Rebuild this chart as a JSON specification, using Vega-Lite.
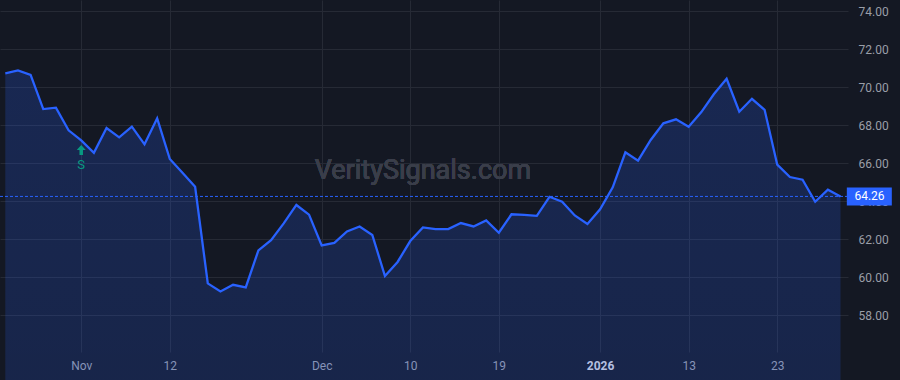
{
  "$schema": "https://vega.github.io/schema/vega-lite/v6.json",
  "width": 848,
  "height": 352,
  "autosize": "none",
  "padding": {"left": 0, "top": 0, "right": 52, "bottom": 28},
  "background": "#141823",
  "config": {
    "view": {"stroke": null},
    "font": "Roboto",
    "axis": {
      "gridColor": "#262a35",
      "gridWidth": 1,
      "domain": false,
      "ticks": false,
      "labelColor": "#9a9ea8",
      "labelFontSize": 12,
      "labelFont": "Roboto",
      "title": null
    }
  },
  "data": {
    "values": [
      {"date": "2025-10-24", "close": 70.74},
      {"date": "2025-10-27", "close": 70.89},
      {"date": "2025-10-28", "close": 70.66},
      {"date": "2025-10-29", "close": 68.86},
      {"date": "2025-10-30", "close": 68.93},
      {"date": "2025-10-31", "close": 67.74},
      {"date": "2025-11-03", "close": 67.21, "signal": "S"},
      {"date": "2025-11-04", "close": 66.56},
      {"date": "2025-11-05", "close": 67.86},
      {"date": "2025-11-06", "close": 67.37},
      {"date": "2025-11-07", "close": 67.93},
      {"date": "2025-11-10", "close": 67.00},
      {"date": "2025-11-11", "close": 68.37},
      {"date": "2025-11-12", "close": 66.23},
      {"date": "2025-11-13", "close": 65.51},
      {"date": "2025-11-14", "close": 64.77},
      {"date": "2025-11-17", "close": 59.68},
      {"date": "2025-11-18", "close": 59.26},
      {"date": "2025-11-19", "close": 59.61},
      {"date": "2025-11-20", "close": 59.47},
      {"date": "2025-11-21", "close": 61.42},
      {"date": "2025-11-24", "close": 61.96},
      {"date": "2025-11-25", "close": 62.84},
      {"date": "2025-11-26", "close": 63.81},
      {"date": "2025-11-28", "close": 63.30},
      {"date": "2025-12-01", "close": 61.68},
      {"date": "2025-12-02", "close": 61.81},
      {"date": "2025-12-03", "close": 62.42},
      {"date": "2025-12-04", "close": 62.68},
      {"date": "2025-12-05", "close": 62.23},
      {"date": "2025-12-08", "close": 60.07},
      {"date": "2025-12-09", "close": 60.81},
      {"date": "2025-12-10", "close": 61.91},
      {"date": "2025-12-11", "close": 62.63},
      {"date": "2025-12-12", "close": 62.54},
      {"date": "2025-12-15", "close": 62.54},
      {"date": "2025-12-16", "close": 62.86},
      {"date": "2025-12-17", "close": 62.68},
      {"date": "2025-12-18", "close": 63.00},
      {"date": "2025-12-19", "close": 62.35},
      {"date": "2025-12-22", "close": 63.32},
      {"date": "2025-12-23", "close": 63.29},
      {"date": "2025-12-24", "close": 63.24},
      {"date": "2025-12-26", "close": 64.24},
      {"date": "2025-12-29", "close": 63.98},
      {"date": "2025-12-30", "close": 63.26},
      {"date": "2025-12-31", "close": 62.81},
      {"date": "2026-01-02", "close": 63.58},
      {"date": "2026-01-05", "close": 64.74},
      {"date": "2026-01-06", "close": 66.58},
      {"date": "2026-01-07", "close": 66.14},
      {"date": "2026-01-08", "close": 67.23},
      {"date": "2026-01-09", "close": 68.11},
      {"date": "2026-01-12", "close": 68.32},
      {"date": "2026-01-13", "close": 67.93},
      {"date": "2026-01-14", "close": 68.70},
      {"date": "2026-01-15", "close": 69.65},
      {"date": "2026-01-16", "close": 70.45},
      {"date": "2026-01-20", "close": 68.72},
      {"date": "2026-01-21", "close": 69.40},
      {"date": "2026-01-22", "close": 68.82},
      {"date": "2026-01-23", "close": 65.93},
      {"date": "2026-01-26", "close": 65.28},
      {"date": "2026-01-27", "close": 65.14},
      {"date": "2026-01-28", "close": 63.98},
      {"date": "2026-01-29", "close": 64.61},
      {"date": "2026-01-30", "close": 64.26}
    ]
  },
  "encoding": {
    "x": {
      "field": "date",
      "type": "ordinal",
      "scale": {"type": "point", "padding": 0.505, "align": 0.415},
      "axis": {
        "values": ["2025-11-03", "2025-11-12", "2025-12-01", "2025-12-10", "2025-12-19", "2026-01-02", "2026-01-13", "2026-01-23"],
        "labelExpr": "datum.value == '2025-11-03' ? 'Nov' : datum.value == '2025-12-01' ? 'Dec' : datum.value == '2026-01-02' ? '2026' : '' + toNumber(slice(datum.value, 8))",
        "labelAngle": 0,
        "labelPadding": 8,
        "grid": true,
        "labelFontWeight": {"condition": {"test": "datum.value == '2026-01-02'", "value": "bold"}, "value": "normal"},
        "labelColor": {"condition": {"test": "datum.value == '2026-01-02'", "value": "#d1d4dc"}, "value": "#9a9ea8"}
      }
    },
    "y": {
      "field": "close",
      "type": "quantitative",
      "scale": {"domain": [56.07, 74.6], "nice": false, "zero": false},
      "axis": {
        "orient": "right",
        "values": [58, 60, 62, 64, 66, 68, 70, 72, 74],
        "format": ".2f",
        "labelPadding": 10,
        "grid": true
      }
    }
  },
  "layer": [
    {
      "mark": {"type": "text", "text": "VeritySignals.com", "fontSize": 27, "font": "Roboto", "color": "#3a3e4a", "align": "center", "baseline": "middle"},
      "encoding": {
        "x": {"datum": "2025-12-11"},
        "y": {"datum": 65.6},
        "text": {}
      }
    },
    {
      "mark": {
        "type": "area",
        "fill": {
          "gradient": "linear",
          "x1": 0, "y1": 0, "x2": 0, "y2": 1,
          "stops": [
            {"offset": 0, "color": "rgba(41,98,255,0.21)"},
            {"offset": 1, "color": "rgba(41,98,255,0.06)"}
          ]
        }
      }
    },
    {
      "mark": {"type": "line", "color": "#2962ff", "strokeWidth": 2.3, "strokeJoin": "miter"}
    },
    {
      "transform": [{"filter": "datum.date == '2026-01-30'"}],
      "mark": {"type": "rule", "color": "#2962ff", "strokeWidth": 1, "strokeDash": [3, 2]},
      "encoding": {"x": null}
    },
    {
      "transform": [{"filter": "datum.signal == 'S'"}],
      "mark": {
        "type": "point",
        "filled": true,
        "opacity": 1,
        "color": "#089981",
        "size": 100,
        "shape": "M0,0.94 L0.9,1.9 L0.35,1.9 L0.35,2.94 L-0.35,2.94 L-0.35,1.9 L-0.9,1.9 Z"
      }
    },
    {
      "transform": [{"filter": "datum.signal == 'S'"}],
      "mark": {"type": "text", "color": "#089981", "fontSize": 13, "dy": 25, "baseline": "middle", "align": "center"},
      "encoding": {"text": {"field": "signal"}}
    },
    {
      "transform": [{"filter": "datum.date == '2026-01-30'"}],
      "mark": {
        "type": "point",
        "filled": true,
        "opacity": 1,
        "color": "#2962ff",
        "size": 1296,
        "shape": "M0.35,-0.5 H2.85 V0.5 H0.35 Z"
      }
    },
    {
      "transform": [{"filter": "datum.date == '2026-01-30'"}],
      "mark": {"type": "text", "color": "#ffffff", "fontSize": 12, "dx": 29, "baseline": "middle", "align": "center"},
      "encoding": {"text": {"field": "close", "type": "quantitative", "format": ".2f"}}
    }
  ]
}
